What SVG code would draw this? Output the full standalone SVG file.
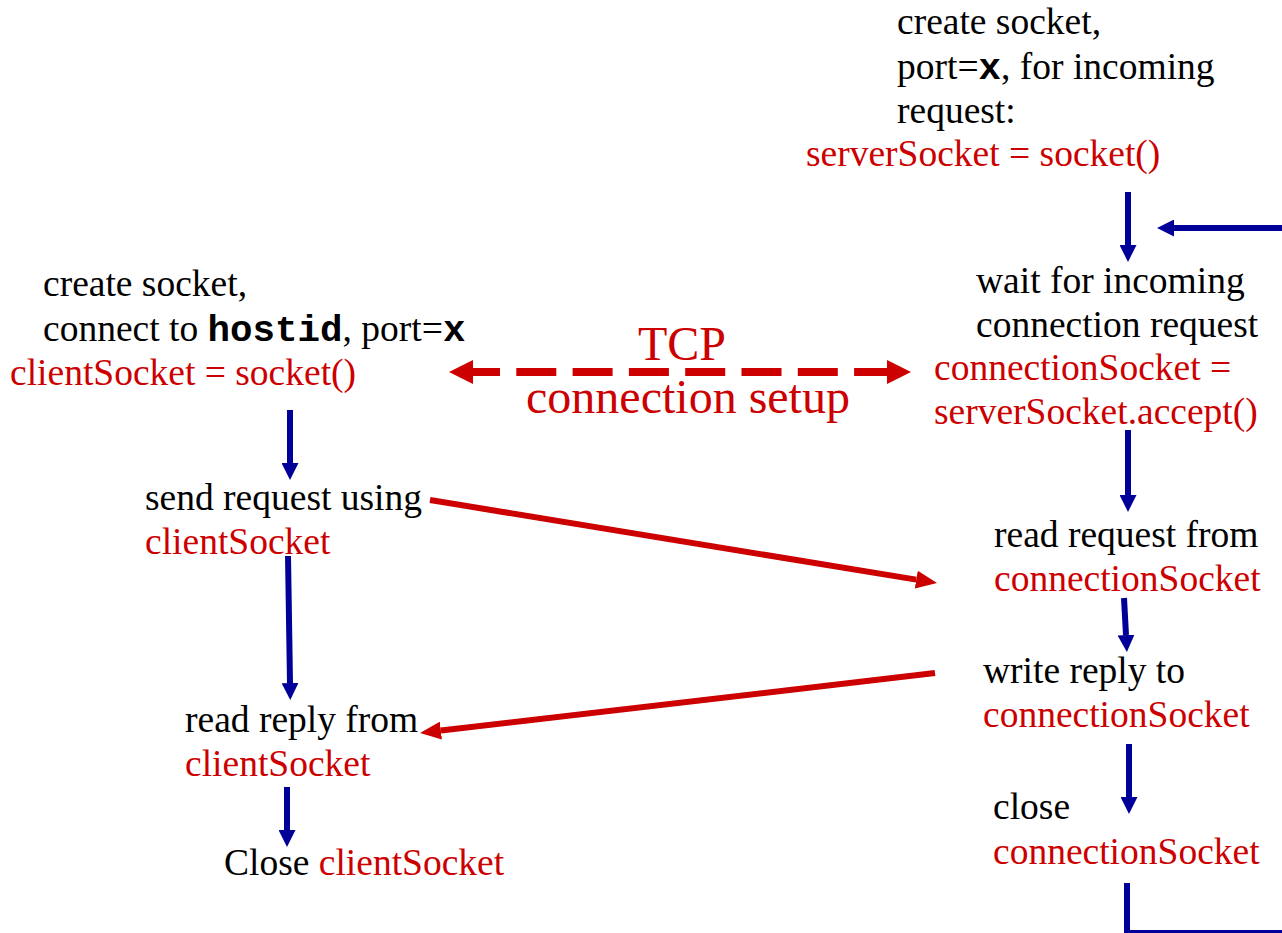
<svg xmlns="http://www.w3.org/2000/svg" width="1282" height="933" viewBox="0 0 1282 933">
<style>
text{font-family:"Liberation Serif","Times New Roman",serif;font-size:37.5px;fill:#000}
.r{fill:#CC0000}
.m{font-family:"Liberation Mono","Courier New",monospace;font-weight:bold}
.big{font-size:48px;fill:#CC0000}
.b{stroke:#000099;stroke-width:6;fill:none}
.rl{stroke:#CC0000;stroke-width:6;fill:none}
</style>
<defs>
<marker id="ab" markerUnits="userSpaceOnUse" markerWidth="17" markerHeight="17" refX="0" refY="8.5" orient="auto" viewBox="0 0 17 17"><path d="M0,0 L17,8.5 L0,17 z" fill="#000099"/></marker>
<marker id="ar" markerUnits="userSpaceOnUse" markerWidth="21" markerHeight="18" refX="0" refY="9" orient="auto" viewBox="0 0 21 18"><path d="M0,0 L21,9 L0,18 z" fill="#CC0000"/></marker>
<marker id="ad" markerUnits="userSpaceOnUse" markerWidth="24" markerHeight="24" refX="0" refY="12" orient="auto-start-reverse" viewBox="0 0 24 24"><path d="M0,0 L24,12 L0,24 z" fill="#CC0000"/></marker>
</defs>
<rect width="1282" height="933" fill="#fff"/>
<g id="server-create">
<text x="897" y="34">create socket,</text>
<text x="897" y="79">port=<tspan class="m">x</tspan>, for incoming</text>
<text x="897" y="123">request:</text>
<text x="806" y="166" class="r">serverSocket = socket()</text>
</g>
<g id="server-wait">
<text x="976" y="293">wait for incoming</text>
<text x="976" y="337">connection request</text>
<text x="934" y="380" class="r">connectionSocket =</text>
<text x="934" y="424" class="r">serverSocket.accept()</text>
</g>
<g id="server-read">
<text x="994" y="547">read request from</text>
<text x="994" y="591" class="r">connectionSocket</text>
</g>
<g id="server-write">
<text x="983" y="683">write reply to</text>
<text x="983" y="727" class="r">connectionSocket</text>
</g>
<g id="server-close">
<text x="993" y="819">close</text>
<text x="993" y="864" class="r">connectionSocket</text>
</g>
<g id="client-create">
<text x="43" y="296">create socket,</text>
<text x="43" y="341">connect to <tspan class="m">hostid</tspan>, port=<tspan class="m">x</tspan></text>
<text x="10" y="385" class="r">clientSocket = socket()</text>
</g>
<g id="client-send">
<text x="145" y="510">send request using</text>
<text x="145" y="554" class="r">clientSocket</text>
</g>
<g id="client-read">
<text x="185" y="732">read reply from</text>
<text x="185" y="776" class="r">clientSocket</text>
</g>
<g id="client-close">
<text x="224" y="875">Close <tspan class="r">clientSocket</tspan></text>
</g>
<g id="tcp-label">
<text x="682" y="360" class="big" text-anchor="middle">TCP</text>
<text x="688" y="413" class="big" text-anchor="middle">connection setup</text>
</g>
<g id="connectors">
<line x1="473" y1="372" x2="887" y2="372" stroke="#CC0000" stroke-width="8" stroke-dasharray="40 16.3" stroke-dashoffset="13" marker-start="url(#ad)" marker-end="url(#ad)"/>
<line class="b" x1="1128" y1="192" x2="1128" y2="245" marker-end="url(#ab)"/>
<line class="b" x1="1282" y1="228" x2="1174" y2="228" marker-end="url(#ab)"/>
<line class="b" x1="1128" y1="430" x2="1128" y2="495" marker-end="url(#ab)"/>
<line class="b" x1="1124" y1="598" x2="1126" y2="635" marker-end="url(#ab)"/>
<line class="b" x1="1129" y1="744" x2="1129" y2="797" marker-end="url(#ab)"/>
<path class="b" d="M1127,883 V930"/>
<path d="M1124,931.5 H1282" stroke="#000099" stroke-width="3" fill="none"/>
<line class="b" x1="290" y1="410" x2="290" y2="463" marker-end="url(#ab)"/>
<line class="b" x1="288" y1="556" x2="290" y2="683" marker-end="url(#ab)"/>
<line class="b" x1="287" y1="787" x2="287" y2="830" marker-end="url(#ab)"/>
<line class="rl" x1="430" y1="500" x2="916.3" y2="579.6" marker-end="url(#ar)"/>
<line class="rl" x1="935" y1="673" x2="440.9" y2="730.6" marker-end="url(#ar)"/>
</g>
</svg>
